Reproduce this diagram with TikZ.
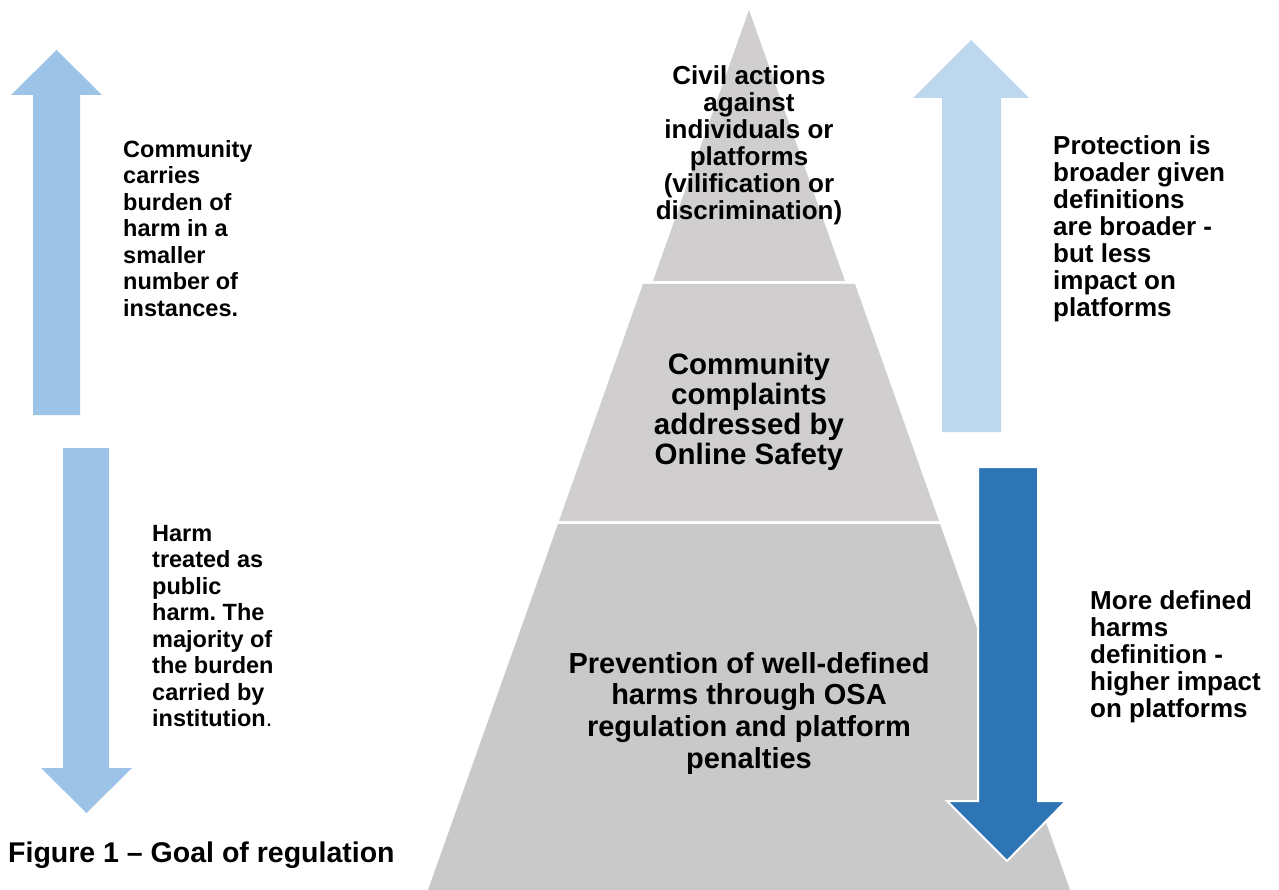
\documentclass[tikz,border=0pt]{standalone}
\usepackage{fontspec}
\setmainfont{Liberation Sans}
\frenchspacing
\definecolor{arrowblue}{HTML}{9DC3E6}
\definecolor{paleblue}{HTML}{BDD7EE}
\definecolor{deepblue}{HTML}{2E75B6}
\definecolor{tiergray}{HTML}{D0CECE}
\definecolor{basegray}{HTML}{C9C9C9}
\tikzset{
  lefttext/.style={anchor=north west, inner sep=0pt, align=left,
    font=\fontsize{23.5pt}{26.5pt}\selectfont\bfseries},
  righttext/.style={anchor=north west, inner sep=0pt, align=left,
    font=\fontsize{26pt}{27pt}\selectfont\bfseries},
  tiertext/.style={anchor=north, inner sep=0pt, align=center},
}
\begin{document}
\begin{tikzpicture}[x=1pt,y=-1pt]
\useasboundingbox (0,0) rectangle (1279,890);
\fill[white] (0,0) rectangle (1279,890);

% pyramid tiers
\fill[tiergray] (749,10) -- (845,281) -- (653,281) -- cycle;
\fill[tiergray] (643,284) -- (855,284) -- (939,521) -- (559,521) -- cycle;
\fill[basegray] (558,524) -- (940,524) -- (1070,890) -- (428,890) -- cycle;

% left arrows
\fill[arrowblue] (56.5,50) -- (102,95) -- (80,95) -- (80,415) -- (33,415)
  -- (33,95) -- (11,95) -- cycle;
\fill[arrowblue] (63,448) -- (109,448) -- (109,768) -- (132,768) -- (86.5,813)
  -- (41,768) -- (63,768) -- cycle;

% right arrows
\fill[paleblue] (971,40) -- (1029,98) -- (1001,98) -- (1001,432) -- (942,432)
  -- (942,98) -- (913,98) -- cycle;
\filldraw[fill=deepblue, draw=white, line width=2pt, line join=miter]
  (978,467) -- (1038,467) -- (1038,801) -- (1066,801) -- (1007,861)
  -- (947,801) -- (978,801) -- cycle;

% tier labels
\node[tiertext, font=\fontsize{26pt}{27pt}\selectfont\bfseries] (civil) at (749,65)
  {Civil actions\\against\\individuals or\\platforms\\(vilification or\\discrimination)};
\node[tiertext, font=\fontsize{29.5pt}{30pt}\selectfont\bfseries] (complaints) at (749,353)
  {Community\\complaints\\addressed by\\Online Safety};
\node[tiertext, font=\fontsize{29pt}{31.7pt}\selectfont\bfseries] (prevention) at (749,652)
  {Prevention of well-defined\\harms through OSA\\regulation and platform\\penalties};

% side labels
\node[lefttext] (burden) at (123,140)
  {Community\\carries\\burden of\\harm in a\\smaller\\number of\\instances.};
\node[lefttext] (public) at (152,525)
  {Harm\\treated as\\public\\harm. The\\majority of\\the burden\\carried by\\institution{\mdseries .}};
\node[righttext] (broader) at (1053,135)
  {Protection is\\broader given\\definitions\\are broader -\\but less\\impact on\\platforms};
\node[righttext] (defined) at (1090,590)
  {More defined\\harms\\definition -\\higher impact\\on platforms};

% caption
\node[anchor=base west, inner sep=0pt, font=\fontsize{28.5pt}{30pt}\selectfont\bfseries]
  (caption) at (8,862) {Figure 1 – Goal of regulation};
\end{tikzpicture}
\end{document}
